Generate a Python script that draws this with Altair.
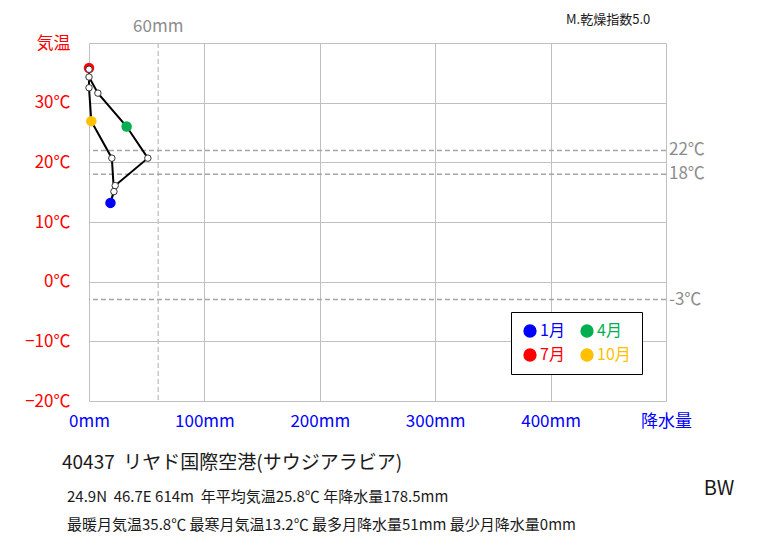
import altair as alt
import pandas as pd

# Monthly climate normals, Riyadh (station 40437)
months = ["1月", "2月", "3月", "4月", "5月", "6月", "7月", "8月", "9月", "10月", "11月", "12月"]
temp_c = [13.2, 16.1, 20.7, 26.0, 31.6, 34.3, 35.8, 35.6, 32.5, 26.9, 20.7, 15.1]
precip_mm = [18.6, 22.7, 51.0, 32.6, 7.7, 0.0, 0.0, 0.0, 0.0, 2.0, 19.8, 21.6]

key_months = ["1月", "4月", "7月", "10月"]
key_colors = ["#0000ff", "#00b050", "#ff0000", "#ffc000"]

# Reference thresholds
temp_refs = [22, 18, -3]
temp_ref_labels = ["22℃", "18℃", "-3℃"]
precip_ref = [60]
precip_ref_labels = ["60mm"]

x_ticks = [0, 100, 200, 300, 400, 500]
y_ticks = [-20, -10, 0, 10, 20, 30, 40]

NB = "\u00a0"
header_text = "M.乾燥指数5.0"
station_text = f"40437{NB}{NB}リヤド国際空港(サウジアラビア)"
info_line1 = f"24.9N{NB}{NB}46.7E 614m{NB}{NB}年平均気温25.8℃ 年降水量178.5mm"
info_line2 = "最暖月気温35.8℃ 最寒月気温13.2℃ 最多月降水量51mm 最少月降水量0mm"
climate_class = "BW"

FONT = "Noto Sans CJK JP"
W, H = 577, 358
LEFT, TOP = 89, 43

df = pd.DataFrame({"month": months, "temp": temp_c, "precip": precip_mm,
                   "order": list(range(1, 13))})
loop = pd.concat([df, df.iloc[[0]].assign(order=13)], ignore_index=True)

xs = alt.Scale(domain=[0, 500], nice=False, zero=False)
ys = alt.Scale(domain=[-20, 40], nice=False, zero=False)

x_axis = alt.Axis(values=x_ticks, title=None, domain=False, ticks=False,
                  labelExpr="datum.value == 500 ? '降水量' : datum.value + 'mm'",
                  labelColor="#0000ff", labelFont=FONT, labelFontSize=17,
                  labelPadding=12, labelFlush=False, labelOverlap=False,
                  grid=True, gridColor="#c0c0c0", gridWidth=1)
y_axis = alt.Axis(values=y_ticks, title=None, domain=False, ticks=False,
                  labelExpr="datum.value == 40 ? '気温' : datum.label + '℃'",
                  labelColor="#ff0000", labelFont=FONT, labelFontSize=17,
                  labelPadding=19, labelFlush=False, labelOverlap=False,
                  grid=True, gridColor="#c0c0c0", gridWidth=1)

base = alt.Chart(loop).encode(
    x=alt.X("precip:Q", scale=xs, axis=x_axis),
    y=alt.Y("temp:Q", scale=ys, axis=y_axis),
)

path = base.mark_line(color="black", strokeWidth=2).encode(order="order:Q")

colored = alt.Chart(df[df["month"].isin(key_months)]).mark_circle(
    size=110, opacity=1).encode(
    x=alt.X("precip:Q", scale=xs),
    y=alt.Y("temp:Q", scale=ys),
    color=alt.Color("month:N",
                    scale=alt.Scale(domain=key_months, range=key_colors),
                    legend=alt.Legend(
                        orient="none", legendX=422, legendY=269,
                        title=None, columns=2, direction="horizontal",
                        symbolType="circle", symbolSize=177,
                        symbolOpacity=1, symbolStrokeWidth=0,
                        labelFont=FONT, labelFontSize=16, labelOffset=2,
                        labelColor={"expr": "datum.label == '1月' ? '#0000ff' : datum.label == '4月' ? '#00b050' : datum.label == '7月' ? '#ff0000' : '#ffc000'"},
                        fillColor="white", strokeColor="black",
                        padding=11, rowPadding=8, columnPadding=14)),
)

plain = alt.Chart(df[~df["month"].isin(key_months)]).mark_point(
    shape="circle", size=42, filled=True, fill="white", stroke="#333333",
    strokeWidth=1, opacity=1).encode(
    x=alt.X("precip:Q", scale=xs),
    y=alt.Y("temp:Q", scale=ys),
)

tref = pd.DataFrame({"t": temp_refs, "label": temp_ref_labels})
temp_lines = alt.Chart(tref).mark_rule(
    color="#a6a6a6", strokeWidth=1.5, strokeDash=[5, 3]).encode(
    y=alt.Y("t:Q", scale=ys))
temp_text = alt.Chart(tref).mark_text(
    align="left", baseline="middle", font=FONT, fontSize=17,
    color="#8c8c8c").encode(
    y=alt.Y("t:Q", scale=ys), x=alt.value(W + 3), text="label:N")

pref = pd.DataFrame({"p": precip_ref, "label": precip_ref_labels})
precip_line = alt.Chart(pref).mark_rule(
    color="#c8c8c8", strokeWidth=1.5, strokeDash=[5, 3]).encode(
    x=alt.X("p:Q", scale=xs))
precip_text = alt.Chart(pref).mark_text(
    align="center", baseline="middle", font=FONT, fontSize=17,
    color="#8c8c8c").encode(
    x=alt.X("p:Q", scale=xs), y=alt.value(-16), text="label:N")


def note(text, x, y, size, align="left", color="#1a1a1a"):
    return alt.Chart(pd.DataFrame({"s": [text]})).mark_text(
        align=align, baseline="middle", font=FONT, fontSize=size,
        color=color).encode(x=alt.value(x), y=alt.value(y), text="s:N")


notes = [
    note(header_text, 477, -23, 13),
    note(station_text, 62 - LEFT, 463 - TOP, 19),
    note(info_line1, 67 - LEFT, 497 - TOP, 15),
    note(info_line2, 67 - LEFT, 525 - TOP, 15),
    note(climate_class, 719 - LEFT, 489 - TOP, 20, align="center"),
]

chart = alt.layer(
    precip_line, temp_lines, path, colored, plain, temp_text, precip_text,
    *notes,
).properties(
    width=W, height=H,
    autosize=alt.AutoSizeParams(type="none"),
    padding={"left": LEFT, "top": TOP, "right": 763 - LEFT - W,
             "bottom": 545 - TOP - H},
).configure_view(
    stroke="#808080", strokeWidth=2,
).configure(background="white")

chart.save("out.html", embed_options={"renderer": "svg", "actions": False})
